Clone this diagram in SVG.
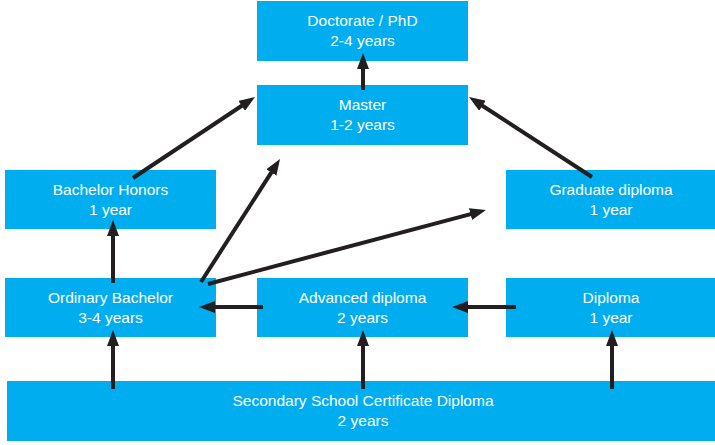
<svg xmlns="http://www.w3.org/2000/svg" width="715" height="445" viewBox="0 0 715 445">
<style>
.box{fill:#00AEEF}
.t{fill:#fff;font-family:"Liberation Sans",Arial,sans-serif;font-size:15.5px;text-anchor:middle}
.c{stroke:#231F20;stroke-width:4;fill:none;marker-end:url(#ah)}
</style>
<defs>
<marker id="ah" markerUnits="userSpaceOnUse" markerWidth="16" markerHeight="12" viewBox="0 0 16 12" refX="6" refY="6" orient="auto">
<path d="M0,0 L16,6 L0,12 Z" fill="#231F20"/>
</marker>
</defs>
<rect width="715" height="445" fill="#fff"/>
<g id="doctorate"><rect class="box" x="257" y="1" width="211" height="60"/><text class="t" x="362.5" y="26">Doctorate / PhD</text><text class="t" x="362.5" y="46">2-4 years</text></g>
<g id="master"><rect class="box" x="257" y="85" width="211" height="60"/><text class="t" x="362.5" y="110">Master</text><text class="t" x="362.5" y="130">1-2 years</text></g>
<g id="bachelor-honors"><rect class="box" x="5" y="170" width="211" height="59"/><text class="t" x="110.5" y="195">Bachelor Honors</text><text class="t" x="110.5" y="215">1 year</text></g>
<g id="graduate-diploma"><rect class="box" x="506" y="170" width="209" height="59"/><text class="t" x="611" y="195">Graduate diploma</text><text class="t" x="611" y="215">1 year</text></g>
<g id="ordinary-bachelor"><rect class="box" x="5" y="278" width="211" height="59"/><text class="t" x="110.5" y="303">Ordinary Bachelor</text><text class="t" x="110.5" y="323">3-4 years</text></g>
<g id="advanced-diploma"><rect class="box" x="257" y="278" width="211" height="59"/><text class="t" x="362.5" y="303">Advanced diploma</text><text class="t" x="362.5" y="323">2 years</text></g>
<g id="diploma"><rect class="box" x="506" y="278" width="209" height="59"/><text class="t" x="611" y="303">Diploma</text><text class="t" x="611" y="323">1 year</text></g>
<g id="secondary"><rect class="box" x="7" y="381" width="708" height="60"/><text class="t" x="363" y="406">Secondary School Certificate Diploma</text><text class="t" x="363" y="426">2 years</text></g>
<g id="connectors">
<line class="c" x1="363" y1="90" x2="363" y2="63"/>
<line class="c" x1="133" y1="178" x2="246.7" y2="102.5"/>
<line class="c" x1="201" y1="282" x2="274.6" y2="167.4"/>
<line class="c" x1="208" y1="284" x2="476.3" y2="212.6"/>
<line class="c" x1="592" y1="177" x2="477.4" y2="102.5"/>
<line class="c" x1="113" y1="283" x2="113" y2="230"/>
<line class="c" x1="263" y1="307" x2="209" y2="307"/>
<line class="c" x1="516" y1="307" x2="462" y2="307"/>
<line class="c" x1="113" y1="389" x2="113" y2="340"/>
<line class="c" x1="363" y1="389" x2="363" y2="340"/>
<line class="c" x1="612" y1="389" x2="612" y2="340"/>
</g>
</svg>
